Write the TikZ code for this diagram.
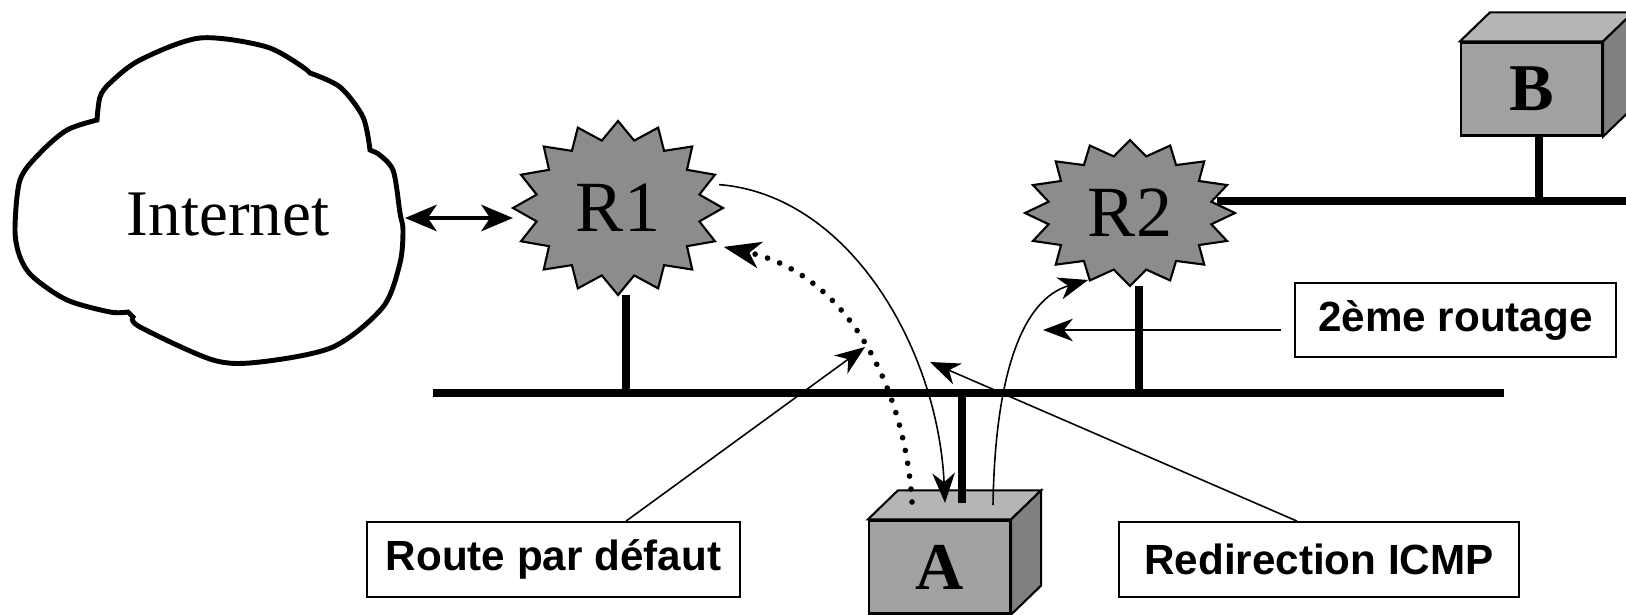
\documentclass[tikz,border=0pt]{standalone}
\usepackage{fontspec}
\setmainfont{Liberation Serif}
\setsansfont{Liberation Sans}
\usetikzlibrary{arrows.meta,shapes.geometric}
\definecolor{rgray}{gray}{0.55}
\definecolor{hfront}{gray}{0.63}
\definecolor{htop}{gray}{0.71}
\definecolor{hside}{gray}{0.5}

\begin{document}
\begin{tikzpicture}[x=0.01cm,y=-0.01cm,
  ptr/.style={line width=0.45pt},
  wire/.style={line width=2pt},
  tip/.style={-{Stealth[length=8.5pt,width=6.4pt,inset=2.6pt]}},
  dots/.style={line width=1.6pt,dash pattern=on 0pt off 3.7pt,line cap=round},
  router/.style={draw=black,line width=0.6pt,fill=rgray},
  lbl/.style={draw,line width=0.5pt,font=\sffamily\bfseries\fontsize{12}{14}\selectfont,minimum height=0.75cm,inner sep=0pt},
  host/.style={draw,line width=0.6pt,fill=hfront,font=\bfseries\fontsize{19}{20}\selectfont,minimum width=1.41cm,minimum height=0.93cm,inner sep=0pt}]
\useasboundingbox (0,0) rectangle (1626,615);

% cloud
\draw[line width=1.4pt] plot[smooth] coordinates {(97,120) (100,97) (110,83) (140,60) (200,38) (267,47) (307,70)}
  -- plot[smooth] coordinates {(310,73) (340,87) (363,117) (370,150)}
  -- plot[smooth] coordinates {(377,153) (393,170) (400,213) (403,230) (400,263) (383,307) (333,347) (260,362) (213,360) (140,327) (133,317)}
  -- plot[smooth] coordinates {(128,312) (110,312) (67,300) (33,277) (20,257) (15,230) (20,180) (40,153) (67,130) (97,120)} -- cycle;
\node[font=\fontsize{18.5}{20}\selectfont] (inet) at (228,215) {Internet};
\coordinate (cloudE) at (405,218);

% routers
\foreach \n/\cx/\cy/\ry/\h in {R1/618/208/87/1.74cm, R2/1130/213/73/1.46cm} {
  \draw[router] plot[samples=33,domain=0:32,variable=\k] ({\cx+105*(1-0.21*mod(\k,2))*cos(\k*11.25)},{\cy-\ry*(1-0.21*mod(\k,2))*sin(\k*11.25)}) -- cycle;
  \node[ellipse,minimum width=2.1cm,minimum height=\h,inner sep=0pt,outer sep=0pt,font=\fontsize{20.5}{22}\selectfont] (\n) at (\cx,\cy) {\n};
}

% hosts
\node[host] (A) at (939.5,567) {A};
\node[host] (B) at (1531.5,89) {B};
\foreach \hst in {A,B} {
  \draw[line width=0.6pt,fill=htop] (\hst.north west) -- ++(30,-29) -- ([shift={(30,-29)}]\hst.north east) -- (\hst.north east) -- cycle;
  \draw[line width=0.6pt,fill=hside] (\hst.north east) -- ++(30,-29) -- ([shift={(30,-29)}]\hst.south east) -- (\hst.south east) -- cycle;
}

% lan
\draw[wire] (433,393) coordinate (busW) -- (1504,393) coordinate (busE);
\draw[wire] ([xshift=0.08cm]R1.south) -- ([xshift=0.08cm]R1.south |- busW);
\draw[wire] ([xshift=0.09cm]R2.south) -- ([xshift=0.09cm]R2.south |- busW);
\coordinate (Astub) at (962,503);
\draw[wire] (Astub) -- (Astub |- busW);
\draw[wire] ([shift={(-0.18cm,0.12cm)}]R2.east) -- ++(420,0) coordinate (lanE);
\draw[wire] ([xshift=0.075cm]B.south) -- ([xshift=0.075cm]B.south |- lanE);

\draw[line width=1.2pt,{Stealth[length=9pt,width=7.5pt,inset=2.5pt]}-{Stealth[length=9pt,width=7.5pt,inset=2.5pt]}] (cloudE) -- (cloudE -| R1.west);

% routes
\coordinate (Ain) at (945,503);
\coordinate (Aout) at (912,502);
\coordinate (Aup) at (993,505);
\draw[ptr,tip] (R1.13) .. controls (850,195) and (938,350) .. (Ain);
\draw[dots,-{Stealth[length=10.5pt,width=7.5pt,inset=3pt]},shorten >=3pt] (Aout) .. controls (905,390) and (850,275) .. (R1.-21);
\draw[ptr,tip] (Aup) .. controls (995,380) and (1020,300) .. (R2.-122);

% labels
\node[lbl,minimum width=3.73cm] (defroute) at (553.5,559.5) {Route par défaut};
\node[lbl,minimum width=4.0cm] (redir) at (1319,559.5) {Redirection ICMP};
\node[lbl,minimum width=3.21cm,minimum height=0.74cm] (route2) at (1455.5,320) {2ème routage};

\coordinate (tip1) at (865,347);
\coordinate (tip3) at (930,362);
\coordinate (tip2) at (1043,330);
\draw[ptr,tip] ([xshift=0.725cm]defroute.north) -- (tip1);
\draw[ptr,tip] ([xshift=-0.22cm]redir.north) -- (tip3);
\draw[ptr,tip] ([xshift=-0.13cm]route2.west |- tip2) -- (tip2);

\end{tikzpicture}
\end{document}
